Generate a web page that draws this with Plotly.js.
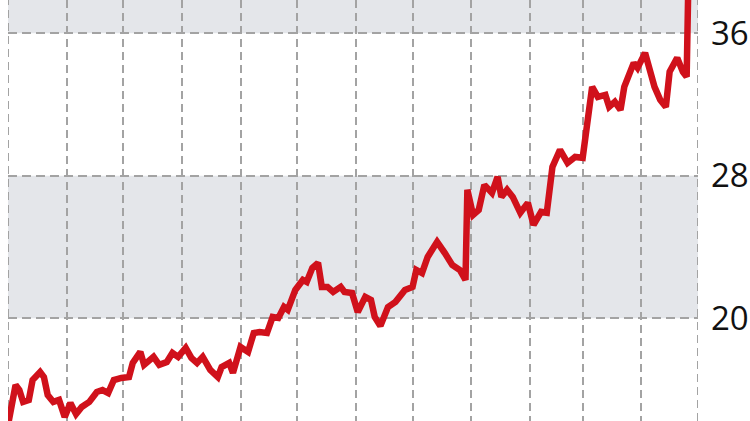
<!DOCTYPE html>
<html>
<head>
<meta charset="utf-8">
<script src="https://cdn.plot.ly/plotly-3.0.1.min.js"></script>
<style>html,body{margin:0;padding:0;background:#fff;}#chart{width:750px;height:421px;}</style>
</head>
<body>
<div id="chart"></div>
<script>
const dates = [
 "2022-05-01","2022-05-05","2022-05-07","2022-05-09","2022-05-12","2022-05-14","2022-05-18","2022-05-20","2022-05-22","2022-05-25",
 "2022-05-28","2022-05-31","2022-06-03","2022-06-06","2022-06-09","2022-06-13","2022-06-17","2022-06-20","2022-06-23","2022-06-26",
 "2022-06-30","2022-07-04","2022-07-06","2022-07-10","2022-07-12","2022-07-17","2022-07-20","2022-07-24","2022-07-27","2022-07-30",
 "2022-08-03","2022-08-06","2022-08-09","2022-08-12","2022-08-16","2022-08-20","2022-08-22","2022-08-26","2022-08-28","2022-09-01",
 "2022-09-05","2022-09-08","2022-09-11","2022-09-15","2022-09-18","2022-09-21","2022-09-24","2022-09-26","2022-09-30","2022-10-04",
 "2022-10-06","2022-10-09","2022-10-12","2022-10-14","2022-10-17","2022-10-20","2022-10-24","2022-10-26","2022-10-30","2022-11-02",
 "2022-11-06","2022-11-09","2022-11-11","2022-11-14","2022-11-18","2022-11-22","2022-11-27","2022-12-01","2022-12-03","2022-12-06",
 "2022-12-09","2022-12-14","2022-12-18","2022-12-22","2022-12-26","2022-12-29","2022-12-30","2023-01-02","2023-01-05","2023-01-08",
 "2023-01-12","2023-01-15","2023-01-17","2023-01-20","2023-01-23","2023-01-27","2023-01-31","2023-02-03","2023-02-07","2023-02-10",
 "2023-02-13","2023-02-17","2023-02-21","2023-02-25","2023-03-01","2023-03-03","2023-03-06","2023-03-09","2023-03-13","2023-03-15",
 "2023-03-18","2023-03-21","2023-03-23","2023-03-28","2023-03-30","2023-04-03","2023-04-06","2023-04-08","2023-04-11","2023-04-14",
 "2023-04-16","2023-04-20","2023-04-23","2023-04-25","2023-04-26"
];
const prices = [
 14.0,16.25,15.97,15.30,15.41,16.53,16.98,16.70,15.69,15.30,
 15.41,14.46,15.24,14.62,15.02,15.30,15.86,15.97,15.80,16.53,
 16.65,16.70,17.49,18.11,17.38,17.83,17.38,17.54,18.05,17.83,
 18.33,17.77,17.49,17.83,17.10,16.70,17.26,17.49,16.93,18.39,
 18.11,19.17,19.23,19.17,20.07,20.02,20.63,20.47,21.59,22.15,
 22.04,22.83,23.11,21.76,21.76,21.48,21.76,21.48,21.42,20.35,
 21.20,21.03,20.07,19.57,20.63,20.92,21.59,21.76,22.71,22.54,
 23.44,24.29,23.67,22.99,22.71,22.15,27.21,25.80,26.08,27.49,
 27.04,27.94,26.81,27.21,26.81,25.92,26.48,25.24,25.97,25.92,
 28.50,29.46,28.72,29.06,29.01,30.86,32.99,32.43,32.54,31.87,
 32.15,31.70,32.99,34.34,34.06,34.90,33.84,32.99,32.26,31.87,
 33.84,34.62,33.84,33.56,39.5
];
const yTicks = [20, 28, 36];
const bands = [[20, 28], [36, 44]];
const xRange = ["2022-05-01", "2023-05-01"];
const yRange = [14.23, 37.87];

const gridColor = '#a3a3a3';
const shapes = bands.map(b => ({
  type: 'rect', xref: 'paper', yref: 'y', x0: 0, x1: 1, y0: b[0], y1: b[1],
  fillcolor: '#e4e6ea', line: {width: 0}, layer: 'below'
}));
// dashed gridlines at the two edges of the plot (Plotly omits edge gridlines)
xRange.forEach(d => shapes.push({
  type: 'line', xref: 'x', yref: 'paper', x0: d, x1: d, y0: 0, y1: 1,
  line: {color: gridColor, width: 2, dash: '8px,5px'}, layer: 'below'
}));

const trace = {
  x: dates, y: prices, type: 'scatter', mode: 'lines',
  line: {color: '#d0111b', width: 6.5, shape: 'linear'},
  hoverinfo: 'skip'
};

const layout = {
  width: 750, height: 421,
  margin: {l: 8, r: 52, t: 0, b: 0, pad: 0},
  paper_bgcolor: '#ffffff', plot_bgcolor: 'rgba(0,0,0,0)',
  showlegend: false,
  shapes: shapes,
  xaxis: {
    type: 'date', range: xRange, dtick: 'M1', tick0: '2022-05-01',
    showticklabels: false, ticks: '', showgrid: true,
    gridcolor: gridColor, gridwidth: 2, griddash: '8px,5px',
    zeroline: false, showline: false, fixedrange: true
  },
  yaxis: {
    side: 'right', range: yRange, tickvals: yTicks, ticktext: yTicks.map(String),
    showgrid: true, gridcolor: gridColor, gridwidth: 2, griddash: '9px,5px',
    zeroline: false, showline: false, ticks: '', ticklabelstandoff: 12,
    tickfont: {family: 'Open Sans, Lato, sans-serif', size: 33, color: '#111111'},
    fixedrange: true
  }
};

Plotly.newPlot('chart', [trace], layout, {displayModeBar: false, staticPlot: true});
</script>
</body>
</html>
